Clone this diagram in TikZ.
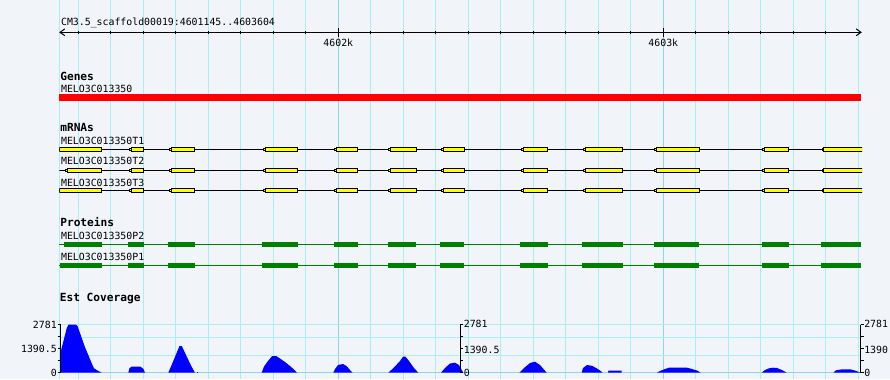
\documentclass[tikz,border=0pt]{standalone}
\usepackage{fontspec}
\setmonofont{DejaVu Sans Mono}
\definecolor{bgc}{HTML}{F1F4F9}
\definecolor{gridc}{HTML}{AAEEF0}
\definecolor{gridmaj}{HTML}{90D4EA}
\definecolor{genered}{HTML}{FF0000}
\definecolor{exony}{HTML}{FFFF00}
\definecolor{protg}{HTML}{008000}
\definecolor{covblue}{HTML}{0000FF}
\newcommand{\myexon}[3]{%
  \filldraw[fill=exony,draw=black,px] ({#1+1.8},{#3-2.2}) rectangle (#2,{#3+2.2});
  \filldraw[fill=exony,draw=black,px] (#1,{#3-1.1}) rectangle ({#1+1.8},{#3+1.1});}
\newcommand{\myblock}[3]{%
  \fill[protg] (#1,{#3-2.7}) rectangle (#2,{#3+2.7});}
\begin{document}
\begin{tikzpicture}[x=0.75pt,y=-0.75pt,
  px/.style={line width=0.75pt},
  lbl/.style={font=\ttfamily\fontsize{7.4}{9}\selectfont,inner sep=0pt,text=black},
  ttl/.style={font=\ttfamily\bfseries\fontsize{8.4}{10}\selectfont,inner sep=0pt,text=black}]
\useasboundingbox (0,0) rectangle (890,379);
\fill[bgc] (0,0) rectangle (890,379);
\clip (0,0) rectangle (890,379);
% vertical grid
\draw[gridc,px] (59.3,0) -- (59.3,379);
\foreach \k in {0,...,24}{
  \pgfmathsetmacro\xx{78.3+32.5*\k}
  \draw[gridc,px] (\xx,0) -- (\xx,379);
}
\draw[gridmaj,px] (338.3,0) -- (338.3,379);
\draw[gridmaj,px] (663.3,0) -- (663.3,379);
% horizontal coverage grid
\foreach \yy in {324.5,337,355}{
  \draw[gridc,px] (60.7,\yy) -- (860.7,\yy);
}
\draw[gridmaj,px] (60.7,372.7) -- (860.7,372.7);

% ruler
\node[lbl,anchor=base west] (title) at (60.8,25) {CM3.5\_scaffold00019:4601145..4603604};
\coordinate (rl) at (60,32.3);
\coordinate (rr) at (861,32.3);
\draw[black,px] (rl) -- (rr);
\draw[black,px] (64.8,28.9) -- (rl) -- (64.8,35.7);
\draw[black,px] (856.2,28.9) -- (rr) -- (856.2,35.7);
\foreach \k in {0,...,23}{
  \pgfmathsetmacro\xx{78.3+32.5*\k}
  \draw[black,px] (\xx,30.8) -- (\xx,34.4);
}
\draw[black,px] (338.3,28) -- (338.3,37);
\draw[black,px] (663.3,28) -- (663.3,37);
\node[lbl,anchor=base] (k4602) at (338.3,46) {4602k};
\node[lbl,anchor=base] (k4603) at (663.3,46) {4603k};

% genes
\node[ttl,anchor=base west] (genes) at (60,80) {Genes};
\node[lbl,anchor=base west] (gname) at (60.8,92) {MELO3C013350};
\fill[genered] (59.3,94.3) rectangle (861,101);

% mRNAs
\node[ttl,anchor=base west] (mrnas) at (60,131.7) {mRNAs};
\node[lbl,anchor=base west] (t1) at (60.8,144.3) {MELO3C013350T1};
\node[lbl,anchor=base west] (t2) at (60.8,164.7) {MELO3C013350T2};
\node[lbl,anchor=base west] (t3) at (60.8,186) {MELO3C013350T3};
\begin{scope}
\clip (59.3,0) rectangle (862,379);
\foreach \yy in {149.3,170.3,190.7}{
  \draw[black,px] (59.3,\yy) -- (861,\yy);
}
\foreach \yy in {149.3,190.7}{
  \myexon{57.5}{101.7}{\yy}
}
\myexon{65.5}{101.7}{170.3}
\foreach \yy in {149.3,170.3,190.7}{
  \foreach \a/\b in {129.3/143.7,169.3/194.7,263.3/297.7,334.3/357.7,388.7/416.3,441.3/464.3,521.3/547.7,583.3/622.7,654.7/699.3,762.7/788.7,822/866}{
    \myexon{\a}{\b}{\yy}
  }
}
\end{scope}

% proteins
\node[ttl,anchor=base west] (prots) at (60,226.7) {Proteins};
\node[lbl,anchor=base west] (p2) at (60.8,239.3) {MELO3C013350P2};
\node[lbl,anchor=base west] (p1) at (60.8,260) {MELO3C013350P1};
\draw[protg,px] (59.3,244.3) -- (861,244.3);
\draw[protg,px] (59.3,265.7) -- (861,265.7);
\myblock{64}{101.7}{244.3}
\myblock{60}{101.7}{265.7}
\foreach \yy in {244.3,265.7}{
  \foreach \a/\b in {128/143.7,168/194.7,262/297.7,333.5/358,388/416.3,440.3/464.3,520.3/548,582.3/623,653.7/699.3,761.7/789,821/861}{
    \myblock{\a}{\b}{\yy}
  }
}

% coverage
\node[ttl,anchor=base west] (est) at (59.5,301) {Est Coverage};
\fill[covblue] (60.7,372.7) -- (60.7,351.7) -- (63.3,341.7) -- (66.7,328.3) -- (68.5,324.5) -- (76,324.5) -- (77.5,326) -- (80,333) -- (85,347.3) -- (88.3,355) -- (91.7,363.3) -- (94,368.3) -- (98.3,371) -- (101.7,372.7) -- cycle;
\fill[covblue] (128.3,372.7) -- (129.5,368.2) -- (131.5,366.7) -- (140.5,366.7) -- (143.5,369) -- (145,372.7) -- cycle;
\fill[covblue] (168.3,372.7) -- (172,364) -- (177,352) -- (179.5,346) -- (181.8,346) -- (186,355) -- (191,365.5) -- (195,372.7) -- cycle;
\fill[covblue] (197,372) rectangle (198,372.7);
\fill[covblue] (261.7,372.7) -- (264,366.5) -- (268,361) -- (272,356.2) -- (276.5,356.2) -- (280,358.5) -- (285,362) -- (290,366) -- (294,369.5) -- (297,372.7) -- cycle;
\fill[covblue] (333.3,372.7) -- (335,369) -- (338,365) -- (343,364) -- (346.5,366) -- (350,370) -- (352.7,372.7) -- cycle;
\fill[covblue] (388.3,372.7) -- (394,367.5) -- (400,361) -- (403,356.7) -- (405.5,356.7) -- (409,361) -- (414,368) -- (418.3,372.7) -- cycle;
\fill[covblue] (441,372.7) -- (445,368) -- (450,363.5) -- (455,362.7) -- (459,365) -- (463.3,372.7) -- cycle;
\fill[covblue] (519.3,372.7) -- (524,368) -- (530,363) -- (535,361.7) -- (540,365) -- (546.7,372.7) -- cycle;
\fill[covblue] (581.7,372.7) -- (583,368) -- (587,365) -- (592,365.8) -- (597,368.5) -- (600,370.5) -- (602.7,372.7) -- cycle;
\fill[covblue] (608,372.7) -- (608.5,370.7) -- (621.7,370.7) -- (621.7,372.7) -- cycle;
\fill[covblue] (656.7,372.7) -- (660,371) -- (665,369) -- (669,367.7) -- (687,367.7) -- (692,369) -- (697,370.5) -- (700.7,372.7) -- cycle;
\fill[covblue] (761.7,372.7) -- (765,370) -- (769,368.3) -- (773,367.7) -- (777,368) -- (782,370) -- (786.7,372.7) -- cycle;
\fill[covblue] (833.3,372.7) -- (836,370.3) -- (842,369.3) -- (850,369.3) -- (855,370.5) -- (860.7,372.7) -- cycle;

% axes
\coordinate (la0) at (60.7,372.7);
\coordinate (la1) at (60.7,324.5);
\draw[black,px] (la0) -- (la1);
\foreach \yy in {324.5,336.5,348.6,360.6,372.7}{
  \draw[black,px] (57.5,\yy) -- (60.7,\yy);
}
\node[lbl,anchor=east] (lmax) at (57,324.5) {2781};
\node[lbl,anchor=east] (lmid) at (57,349.2) {1390.5};
\node[lbl,anchor=east] (lmin) at (57,372.7) {0};

\coordinate (ma0) at (460.3,372.7);
\coordinate (ma1) at (460.3,324.5);
\draw[black,px] (ma0) -- (ma1);
\foreach \yy in {324.5,336.5,348.6,360.6,372.7}{
  \draw[black,px] (460.3,\yy) -- (463.3,\yy);
}
\node[lbl,anchor=west] (mmax) at (463.6,324.3) {2781};
\node[lbl,anchor=west] (mmid) at (463.6,349.5) {1390.5};
\node[lbl,anchor=west] (mmin) at (463.6,372.7) {0};

\coordinate (ra0) at (860.7,372.7);
\coordinate (ra1) at (860.7,324.5);
\draw[black,px] (ra0) -- (ra1);
\foreach \yy in {324.5,336.5,348.6,360.6,372.7}{
  \draw[black,px] (860.7,\yy) -- (863.7,\yy);
}
\node[lbl,anchor=west] (rmax) at (864,324.3) {2781};
\node[lbl,anchor=west] (rmid) at (864,349.5) {1390.5};
\node[lbl,anchor=west] (rmin) at (864,372.7) {0};
\end{tikzpicture}
\end{document}
